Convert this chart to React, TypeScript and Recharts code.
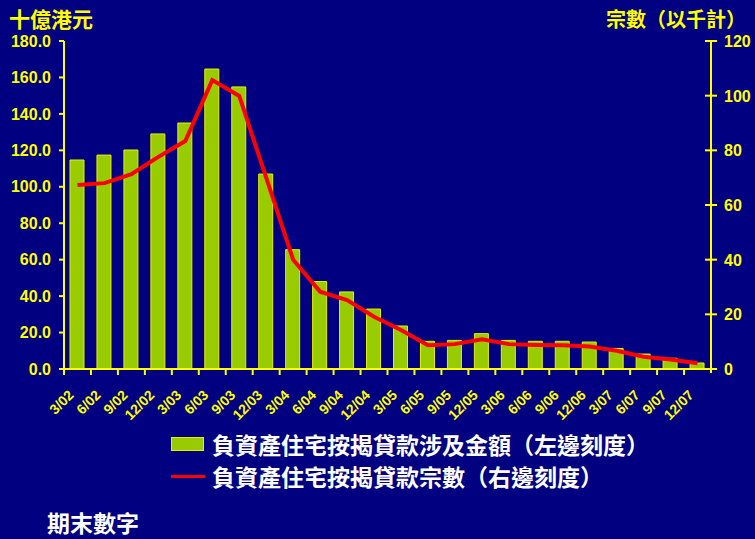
import { Bar, ComposedChart, Line, XAxis, YAxis } from "recharts";

const quarters = [
  "3/02", "6/02", "9/02", "12/02", "3/03", "6/03", "9/03", "12/03",
  "3/04", "6/04", "9/04", "12/04", "3/05", "6/05", "9/05", "12/05",
  "3/06", "6/06", "9/06", "12/06", "3/07", "6/07", "9/07", "12/07",
];

// HK$ billion (left axis)
const amountValues = [
  114.7, 117.4, 120.2, 129.0, 135.0, 164.6, 154.8, 107.0,
  65.5, 48.0, 42.3, 32.9, 23.6, 15.2, 15.7, 19.4,
  15.7, 15.2, 15.2, 14.8, 11.3, 8.2, 5.9, 3.3,
];

// cases, thousands (right axis)
const caseValues = [
  67.3, 68.0, 71.3, 77.6, 83.4, 105.7, 99.9, 70.0,
  40.0, 28.3, 25.2, 19.1, 14.3, 8.7, 9.1, 10.9,
  9.1, 8.8, 8.7, 8.2, 6.7, 4.5, 3.5, 2.1,
];

const leftTicks = [0, 20, 40, 60, 80, 100, 120, 140, 160, 180];
const rightTicks = [0, 20, 40, 60, 80, 100, 120];

const data = quarters.map((q, i) => ({ q, amount: amountValues[i], cases: caseValues[i] }));

const YELLOW = "#ffff00";
const NAVY = "#000080";
const latin = "'Liberation Sans', Arial, sans-serif";
const cjk = "'Noto Sans CJK TC', 'Noto Sans CJK SC', sans-serif";

const BAND = 647 / quarters.length;

function QuarterTick(props: any) {
  const { x, y, payload, index } = props;
  const last = index === quarters.length - 1;
  return (
    <g>
      <line x1={x - BAND / 2} x2={x - BAND / 2} y1={y} y2={y + 6} stroke={YELLOW} strokeWidth={2} />
      {index === 0 && <line x1={x - BAND / 2 - 5} x2={x - BAND / 2} y1={y} y2={y} stroke={YELLOW} strokeWidth={2} />}
      {last && <line x1={x + BAND / 2} x2={x + BAND / 2} y1={y - 4} y2={y + 4} stroke={YELLOW} strokeWidth={2} />}
      <text
        transform={`translate(${x - 3},${y + 27}) rotate(-45)`}
        textAnchor="end"
        fill={YELLOW}
        fontFamily={latin}
        fontWeight="bold"
        fontSize={14}
      >
        {payload.value}
      </text>
    </g>
  );
}

function RightTick(props: any) {
  const { x, y, payload } = props;
  const ax = x - 12;
  return (
    <g>
      <line x1={ax - 6} x2={ax + 6} y1={y} y2={y} stroke={YELLOW} strokeWidth={2} />
      <text x={ax + 13} y={y + 6} textAnchor="start" fill={YELLOW} fontFamily={latin} fontWeight="bold" fontSize={16}>
        {payload.value}
      </text>
    </g>
  );
}

export default function App() {
  return (
    <div style={{ position: "fixed", left: 0, top: 0, width: 755, height: 539, background: NAVY, overflow: "hidden" }}>
      <ComposedChart width={755} height={539} data={data} margin={{ top: 41, right: 0, bottom: 110, left: 0 }}>
        <XAxis
          dataKey="q"
          interval={0}
          height={60}
          axisLine={{ stroke: YELLOW, strokeWidth: 2 }}
          tickLine={false}
          tickSize={0}
          tickMargin={0}
          tick={<QuarterTick />}
        />
        <YAxis
          yAxisId="left"
          domain={[0, 180]}
          ticks={leftTicks}
          width={64}
          axisLine={{ stroke: YELLOW, strokeWidth: 2 }}
          tickLine={{ stroke: YELLOW, strokeWidth: 2 }}
          tickSize={5}
          tickMargin={8}
          tickFormatter={(v) => Number(v).toFixed(1)}
          tick={{ fill: YELLOW, fontFamily: latin, fontWeight: "bold", fontSize: 16 }}
        />
        <YAxis
          yAxisId="right"
          orientation="right"
          domain={[0, 120]}
          ticks={rightTicks}
          width={44}
          axisLine={{ stroke: YELLOW, strokeWidth: 2 }}
          tickLine={false}
          tickSize={6}
          tickMargin={6}
          tick={<RightTick />}
        />
        <Bar
          yAxisId="left"
          dataKey="amount"
          barSize={14}
          fill="#99cc00"
          stroke="#e8f000"
          strokeWidth={1}
          isAnimationActive={false}
        />
        <Line
          yAxisId="right"
          dataKey="cases"
          stroke="#ff0000"
          strokeWidth={4}
          dot={false}
          type="linear"
          isAnimationActive={false}
        />
      </ComposedChart>

      <div style={{ position: "absolute", left: 9, top: 3, color: YELLOW, fontFamily: cjk, fontWeight: "bold", fontSize: 21 }}>
        十億港元
      </div>
      <div style={{ position: "absolute", right: 9, top: 4, color: YELLOW, fontFamily: cjk, fontWeight: "bold", fontSize: 20 }}>
        宗數（以千計）
      </div>

      <div style={{ position: "absolute", left: 171, top: 428, color: "#ffffff", fontFamily: cjk, fontWeight: "bold", fontSize: 23, lineHeight: "32px" }}>
        <div style={{ display: "flex", alignItems: "center" }}>
          <span style={{ display: "inline-block", width: 31, height: 12, background: "#99cc00", border: "1px solid #e8f000", marginRight: 8 }} />
          負資產住宅按揭貸款涉及金額（左邊刻度）
        </div>
        <div style={{ display: "flex", alignItems: "center" }}>
          <span style={{ display: "inline-block", width: 34, height: 3, background: "#ff0000", marginRight: 7 }} />
          負資產住宅按揭貸款宗數（右邊刻度）
        </div>
      </div>

      <div style={{ position: "absolute", left: 47, top: 505, color: "#ffffff", fontFamily: cjk, fontWeight: "bold", fontSize: 23 }}>
        期末數字
      </div>
    </div>
  );
}
